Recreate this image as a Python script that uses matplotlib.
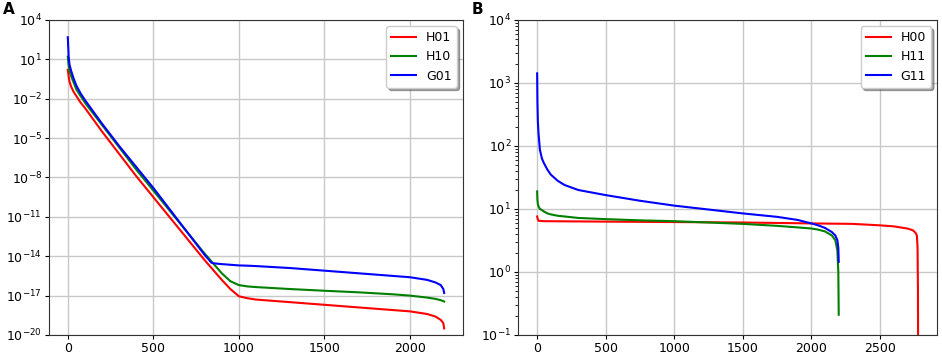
import numpy as np
import matplotlib
matplotlib.use('Agg')
import matplotlib.pyplot as plt

# Panel A: log10 of the values, shared x grid
x_a = [0, 5, 10, 20, 35, 50, 75, 100, 200, 300, 400, 500, 600, 700, 800, 840,
       860, 900, 950, 1000, 1050, 1100, 1300, 1500, 1700, 1900, 2000, 2100,
       2150, 2180, 2195, 2200]
h01_log = [0.2, -0.3, -0.7, -1.1, -1.5, -1.8, -2.3, -2.7, -4.5, -6.2, -7.9, -9.5,
           -11.1, -12.7, -14.3, -14.9, -15.2, -15.8, -16.5, -17.05, -17.2, -17.3,
           -17.5, -17.7, -17.9, -18.1, -18.2, -18.4, -18.6, -18.85, -19.1, -19.5]
h10_log = [1.2, 0.5, 0.1, -0.3, -0.8, -1.3, -1.8, -2.3, -4.0, -5.7, -7.4, -9.0,
           -10.6, -12.2, -13.8, -14.4, -14.7, -15.3, -15.9, -16.2, -16.3, -16.35,
           -16.5, -16.63, -16.75, -16.9, -17.0, -17.15, -17.25, -17.35, -17.42, -17.45]
g01_log = [2.68, 1.2, 0.6, 0.1, -0.5, -1.0, -1.6, -2.1, -3.9, -5.6, -7.2, -8.8,
           -10.5, -12.2, -13.9, -14.5, -14.55, -14.6, -14.65, -14.7, -14.72, -14.75,
           -14.9, -15.1, -15.3, -15.5, -15.6, -15.8, -16.0, -16.2, -16.5, -16.8]

# Panel B
x_b = [0, 2, 5, 10, 20, 35, 50, 75, 100, 150, 200, 300, 500, 750, 1000, 1250,
       1500, 1750, 1900, 2000, 2050, 2100, 2150, 2175, 2190, 2197, 2200]
g11 = [1420, 500, 250, 158, 87, 63, 53, 42, 35, 28, 24, 20, 16.6, 13.5, 11.3,
       9.8, 8.5, 7.5, 6.7, 5.9, 5.5, 5.0, 4.3, 3.8, 3.2, 2.4, 1.45]
h11 = [19, 14, 12, 11, 10, 9.6, 9.1, 8.5, 8.2, 7.8, 7.6, 7.2, 6.9, 6.6, 6.4,
       6.1, 5.8, 5.4, 5.1, 4.9, 4.7, 4.4, 3.8, 3.2, 2.2, 1.0, 0.21]
x_h00 = [0, 5, 10, 50, 500, 1000, 1500, 2000, 2300, 2500, 2600, 2700, 2740,
         2760, 2770, 2775, 2778, 2780]
h00 = [7.6, 6.8, 6.5, 6.4, 6.3, 6.2, 6.1, 5.9, 5.8, 5.5, 5.3, 4.9, 4.6, 4.2,
       3.8, 2.5, 0.5, 0.01]

fig = plt.figure(figsize=(9.42, 3.56), dpi=100)
ax1 = fig.add_axes([0.052, 0.059, 0.4395, 0.885])
ax2 = fig.add_axes([0.550, 0.059, 0.445, 0.885])

ax1.semilogy(x_a, 10 ** np.array(h01_log), color='red', lw=1.5, label='H01')
ax1.semilogy(x_a, 10 ** np.array(h10_log), color='green', lw=1.5, label='H10')
ax1.semilogy(x_a, 10 ** np.array(g01_log), color='blue', lw=1.5, label='G01')
ax1.set_ylim(1e-20, 1e4)
ax1.set_yticks([10.0 ** k for k in range(-20, 5, 3)])
ax1.set_xticks([0, 500, 1000, 1500, 2000])

ax2.semilogy(x_h00, h00, color='red', lw=1.5, label='H00')
ax2.semilogy(x_b, h11, color='green', lw=1.5, label='H11')
ax2.semilogy(x_b, g11, color='blue', lw=1.5, label='G11')
ax2.set_ylim(1e-1, 1e4)
ax2.set_xticks([0, 500, 1000, 1500, 2000, 2500])

for ax in (ax1, ax2):
    ax.grid(True, color='#c8c8c8', lw=1)
    ax.tick_params(labelsize=9, length=3, pad=2)
    ax.tick_params(which='minor', length=2)
    ax.legend(loc='upper right', shadow=True, fontsize=9, framealpha=1)
    for s in ax.spines.values():
        s.set_color('#333333')

ax1.minorticks_off()
fig.text(0.003, 0.993, 'A', fontsize=11, fontweight='bold', va='top')
fig.text(0.501, 0.993, 'B', fontsize=11, fontweight='bold', va='top')

fig.savefig('out.png', dpi=100)
